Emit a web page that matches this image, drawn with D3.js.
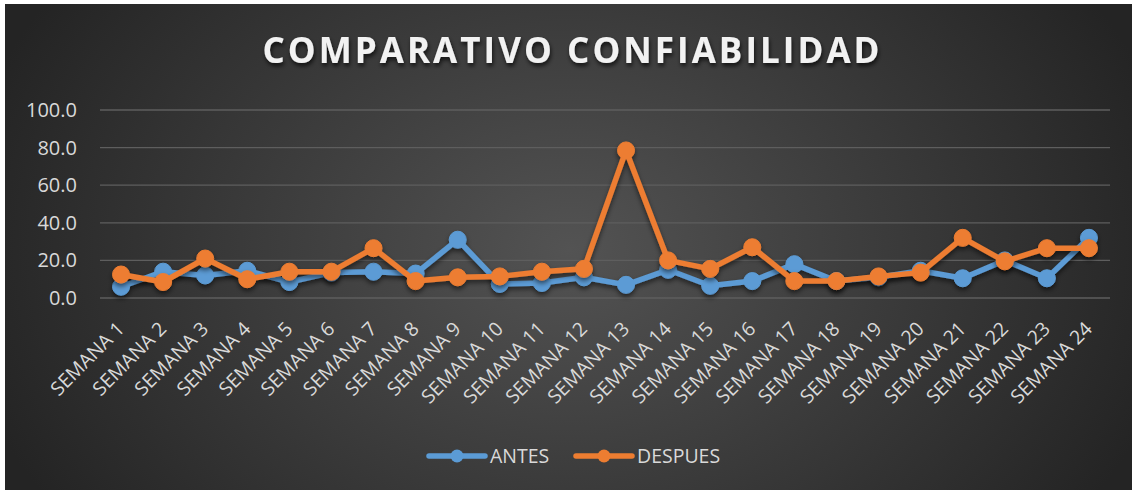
<!DOCTYPE html>
<html>
<head>
<meta charset="utf-8">
<script src="https://cdn.jsdelivr.net/npm/d3@7"></script>
<style>
  body { margin: 0; background: #fff; }
  text { font-family: "Open Sans", sans-serif; }
</style>
</head>
<body>
<script>
const weeks = ["SEMANA 1", "SEMANA 2", "SEMANA 3", "SEMANA 4", "SEMANA 5", "SEMANA 6",
  "SEMANA 7", "SEMANA 8", "SEMANA 9", "SEMANA 10", "SEMANA 11", "SEMANA 12",
  "SEMANA 13", "SEMANA 14", "SEMANA 15", "SEMANA 16", "SEMANA 17", "SEMANA 18",
  "SEMANA 19", "SEMANA 20", "SEMANA 21", "SEMANA 22", "SEMANA 23", "SEMANA 24"];
const antes = [6, 14, 12, 14.5, 8.5, 13.5, 14, 13, 31, 7.5, 8, 11,
  7, 15, 6.5, 9, 18, 9, 11, 14.5, 10.5, 20, 10.5, 32];
const despues = [12.5, 8.5, 21, 10, 14, 14, 26.5, 9, 11, 11.5, 14, 15.5,
  78.5, 20, 15.5, 27, 9, 9, 11.5, 13.5, 32, 19.5, 26.5, 26.5];
const yTicks = [0, 20, 40, 60, 80, 100];
const seriesNames = ["ANTES", "DESPUES"];
const colors = ["#5b9bd5", "#ed7d31"];

const W = 1132, H = 490;
const svg = d3.select("body").append("svg")
    .attr("width", W)
    .attr("height", H);

let defs = svg.append("defs");
let grad = defs.append("radialGradient")
    .attr("id", "bg")
    .attr("gradientUnits", "userSpaceOnUse")
    .attr("cx", 570).attr("cy", 250).attr("r", 620)
    .attr("gradientTransform", "translate(570,250) scale(1,0.75) translate(-570,-250)");
grad.append("stop").attr("offset", 0).attr("stop-color", "#535353");
grad.append("stop").attr("offset", 1).attr("stop-color", "#242424");

defs.append("filter").attr("id", "shadow")
    .attr("x", "-10%").attr("y", "-10%").attr("width", "120%").attr("height", "130%")
  .append("feDropShadow")
    .attr("dx", 0).attr("dy", 3).attr("stdDeviation", 2.5)
    .attr("flood-color", "#000").attr("flood-opacity", 0.55);

defs.append("filter").attr("id", "tshadow")
    .attr("x", "-5%").attr("y", "-20%").attr("width", "110%").attr("height", "150%")
  .append("feDropShadow")
    .attr("dx", 1).attr("dy", 3).attr("stdDeviation", 2)
    .attr("flood-color", "#000").attr("flood-opacity", 0.7);

svg.append("rect")
    .attr("x", 5).attr("y", 4)
    .attr("width", W - 5).attr("height", H - 4)
    .attr("fill", "url(#bg)");

svg.append("text")
    .attr("x", 571).attr("y", 63)
    .attr("text-anchor", "middle")
    .attr("font-size", 35)
    .attr("font-weight", "bold")
    .attr("fill", "#f2f2f2")
    .attr("textLength", 617)
    .attr("lengthAdjust", "spacing")
    .attr("filter", "url(#tshadow)")
    .text("COMPARATIVO CONFIABILIDAD");

let x = d3.scalePoint()
    .domain(weeks)
    .range([100, 1110])
    .padding(0.5);
let y = d3.scaleLinear()
    .domain([0, 100])
    .range([298, 110]);

// gridlines
svg.append("g")
  .selectAll("line")
  .data(yTicks)
  .enter().append("line")
    .attr("x1", 100).attr("x2", 1110)
    .attr("y1", d => y(d)).attr("y2", d => y(d))
    .attr("stroke", "#5e5e5e")
    .attr("stroke-width", 1.3);

let yAxis = svg.append("g")
    .attr("transform", "translate(80,0)")
    .call(d3.axisLeft(y).tickValues(yTicks).tickFormat(d3.format(".1f")).tickSize(0));
yAxis.select(".domain").remove();
yAxis.selectAll("text")
    .attr("x", -3)
    .attr("font-size", 20)
    .attr("font-family", "Open Sans")
    .attr("fill", "#d9d9d9");

let xAxis = svg.append("g")
    .attr("transform", "translate(0,298)")
    .call(d3.axisBottom(x).tickSize(0));
xAxis.select(".domain").remove();
xAxis.selectAll("text")
    .attr("x", 0).attr("y", 0).attr("dy", null)
    .attr("transform", "translate(4,32) rotate(-45)")
    .attr("text-anchor", "end")
    .attr("font-size", 19.5)
    .attr("font-family", "Open Sans")
    .attr("fill", "#d9d9d9");

function drawSeries(values, color) {
  let g = svg.append("g").attr("filter", "url(#shadow)");
  let line = d3.line()
      .x((v, i) => x(weeks[i]))
      .y(v => y(v));
  g.append("path")
      .datum(values)
      .attr("d", line)
      .attr("fill", "none")
      .attr("stroke", color)
      .attr("stroke-width", 5.5)
      .attr("stroke-linejoin", "round");
  g.selectAll("circle")
      .data(values)
      .enter().append("circle")
        .attr("cx", (v, i) => x(weeks[i]))
        .attr("cy", v => y(v))
        .attr("r", 8.5)
        .attr("fill", color)
        .attr("stroke", color)
        .attr("stroke-width", 1);
}

drawSeries(antes, colors[0]);
drawSeries(despues, colors[1]);

// legend
let legendX = [429, 576];
let legend = svg.append("g")
  .selectAll("g")
  .data(seriesNames)
  .enter().append("g")
    .attr("transform", (d, i) => `translate(${legendX[i]},456)`);
legend.append("line")
    .attr("x1", 0).attr("x2", 56)
    .attr("stroke", (d, i) => colors[i])
    .attr("stroke-width", 5.5)
    .attr("stroke-linecap", "round");
legend.append("circle")
    .attr("cx", 28).attr("r", 6.5)
    .attr("fill", (d, i) => colors[i]);
legend.append("text")
    .attr("x", 61).attr("dy", "0.36em")
    .attr("font-size", 19.5)
    .attr("fill", "#d9d9d9")
    .text(d => d);
</script>
</body>
</html>
